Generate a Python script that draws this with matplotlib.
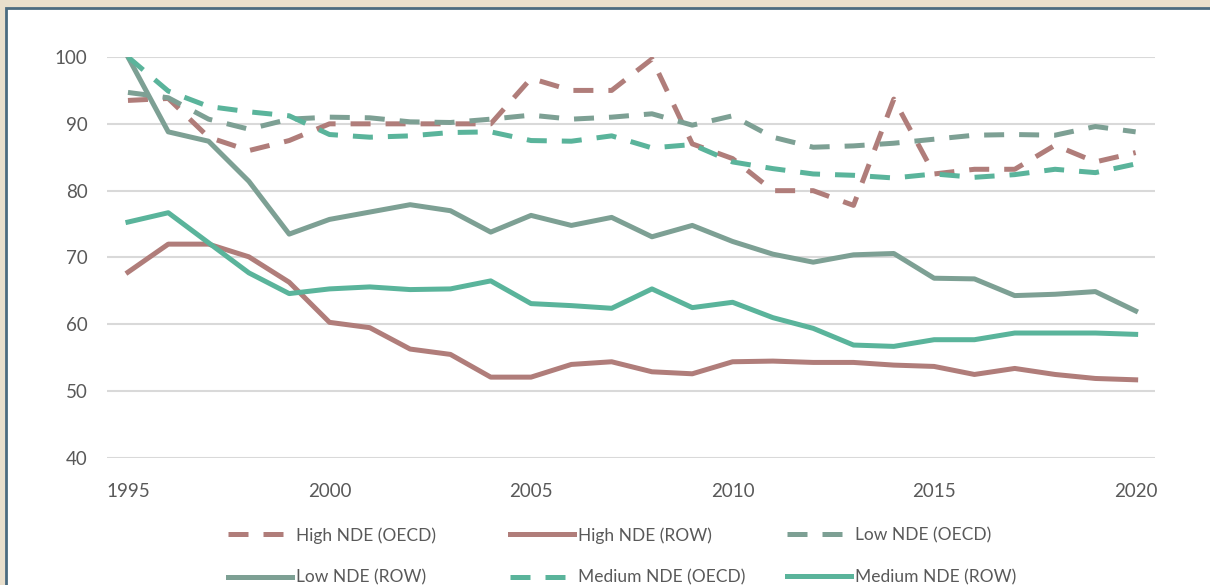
import matplotlib.pyplot as plt
from matplotlib.patches import Rectangle

years = list(range(1995, 2021))

high_oecd = [93.5, 93.8, 88.0, 86.0, 87.5, 90.0, 90.0, 90.0, 90.0, 90.0, 96.8, 95.0,
             95.0, 99.7, 87.0, 84.8, 80.0, 80.0, 77.8, 93.7, 82.5, 83.2, 83.2, 86.8, 84.3, 85.7]
high_row = [67.8, 72.0, 72.0, 70.1, 66.3, 60.3, 59.5, 56.3, 55.5, 52.1, 52.1, 54.0,
            54.4, 52.9, 52.6, 54.4, 54.5, 54.3, 54.3, 53.9, 53.7, 52.5, 53.4, 52.5, 51.9, 51.7]
low_oecd = [94.7, 93.9, 90.7, 89.2, 90.7, 91.0, 90.9, 90.3, 90.2, 90.7, 91.3, 90.7,
            91.0, 91.5, 89.8, 91.2, 88.0, 86.5, 86.7, 87.1, 87.7, 88.3, 88.4, 88.3, 89.6, 88.8]
low_row = [100.0, 88.8, 87.4, 81.4, 73.5, 75.7, 76.8, 77.9, 77.0, 73.8, 76.3, 74.8,
           76.0, 73.1, 74.8, 72.4, 70.5, 69.3, 70.4, 70.6, 66.9, 66.8, 64.3, 64.5, 64.9, 62.0]
medium_oecd = [100.0, 94.9, 92.6, 91.8, 91.2, 88.4, 88.0, 88.2, 88.7, 88.8, 87.5, 87.4,
               88.2, 86.4, 86.9, 84.3, 83.3, 82.5, 82.3, 81.9, 82.5, 82.0, 82.4, 83.2, 82.7, 84.0]
medium_row = [75.3, 76.7, 72.2, 67.7, 64.6, 65.3, 65.6, 65.2, 65.3, 66.5, 63.1, 62.8,
              62.4, 65.3, 62.5, 63.3, 61.0, 59.4, 56.9, 56.7, 57.7, 57.7, 58.7, 58.7, 58.7, 58.5]

c_high = "#B07D7A"
c_low = "#7DA094"
c_med = "#5AB49B"
txt = "#595959"

plt.rcParams["font.family"] = ["Lato", "DejaVu Sans"]

fig = plt.figure(figsize=(12.1, 5.85), dpi=100)
fig.patch.set_facecolor("#E9DFCC")
fig.patches.append(Rectangle((6 / 1210, -0.1), 1.2, 0.1 + (585 - 8) / 585,
                             transform=fig.transFigure, facecolor="white",
                             edgecolor="#4B6B80", lw=2, zorder=-10))

ax = fig.add_axes([107 / 1210, (585 - 458) / 585, (1155 - 107) / 1210, (458 - 57) / 585])
ax.set_facecolor("none")

lw = 3.6
dash = (0, (4, 3))
l1, = ax.plot(years, high_oecd, color=c_high, lw=lw, linestyle=dash, label="High NDE (OECD)")
l2, = ax.plot(years, high_row, color=c_high, lw=lw, label="High NDE (ROW)")
l3, = ax.plot(years, low_oecd, color=c_low, lw=lw, linestyle=dash, label="Low NDE (OECD)")
l4, = ax.plot(years, low_row, color=c_low, lw=lw, label="Low NDE (ROW)")
l5, = ax.plot(years, medium_oecd, color=c_med, lw=lw, linestyle=dash, label="Medium NDE (OECD)")
l6, = ax.plot(years, medium_row, color=c_med, lw=lw, label="Medium NDE (ROW)")

ax.set_xlim(1994.48, 2020.48)
ax.set_ylim(40, 100)
ax.set_yticks(range(40, 101, 10))
ax.set_xticks(range(1995, 2021, 5))
ax.grid(axis="y", color="#D9D9D9", lw=1.5)
ax.set_axisbelow(True)
for s in ax.spines.values():
    s.set_visible(False)
ax.tick_params(length=0, labelsize=13.5, colors=txt)
ax.tick_params(axis="x", pad=18)
ax.tick_params(axis="y", pad=14)

# legend laid out row by row like the original, one block per column
cols = [([l1, l4], 228), ([l2, l5], 510), ([l3, l6], 787)]
for handles, xpx in cols:
    leg = fig.legend(handles=handles, loc="upper left",
                     bbox_to_anchor=(xpx / 1210, 1 - 527 / 585),
                     frameon=False, fontsize=12.5, handlelength=3.7,
                     handletextpad=0.2, labelspacing=1.5,
                     borderpad=0, borderaxespad=0)
    for t in leg.get_texts():
        t.set_color(txt)

fig.savefig("out.png", dpi=100, facecolor=fig.get_facecolor())
